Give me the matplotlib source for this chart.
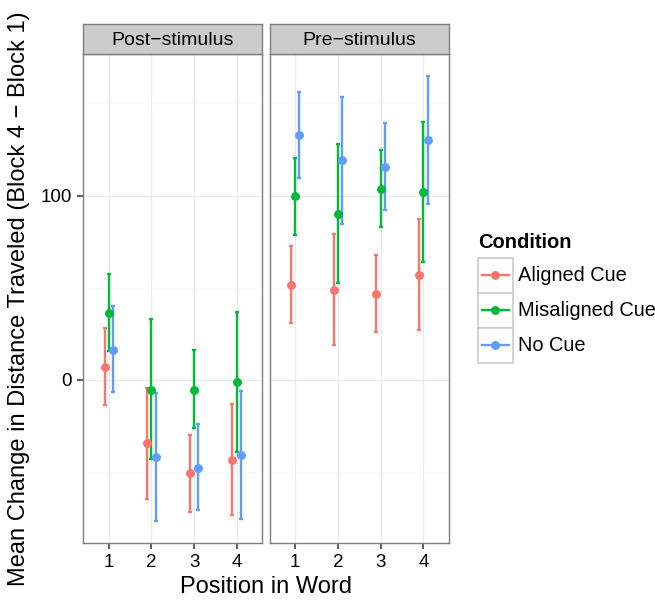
import matplotlib
matplotlib.use('Agg')
import matplotlib.pyplot as plt
from matplotlib.patches import Rectangle
from matplotlib.lines import Line2D
import numpy as np

plt.rcParams['font.family'] = ['Liberation Sans', 'DejaVu Sans']

# ---------------- data ----------------
positions = [1, 2, 3, 4]
facets = ['Post\u2212stimulus', 'Pre\u2212stimulus']
conditions = ['Aligned Cue', 'Misaligned Cue', 'No Cue']
colors = ['#F8766D', '#00BA38', '#619CFF']

post_aligned_mean = [7.2, -34.4, -50.6, -43.6]
post_aligned_lo = [-13.5, -64.7, -71.9, -73.5]
post_aligned_hi = [28.3, -4.5, -29.9, -13.0]
post_misaligned_mean = [36.4, -5.4, -5.4, -1.4]
post_misaligned_lo = [15.7, -43.2, -25.9, -39.3]
post_misaligned_hi = [57.3, 32.8, 16.0, 36.6]
post_nocue_mean = [16.4, -42.0, -47.9, -40.9]
post_nocue_lo = [-6.8, -76.6, -70.8, -75.3]
post_nocue_hi = [40.0, -7.2, -24.0, -6.1]

pre_aligned_mean = [51.5, 48.8, 46.5, 56.9]
pre_aligned_lo = [30.8, 18.7, 25.9, 27.0]
pre_aligned_hi = [72.6, 79.1, 67.9, 87.0]
pre_misaligned_mean = [99.6, 89.9, 103.4, 101.8]
pre_misaligned_lo = [78.6, 52.3, 82.9, 64.2]
pre_misaligned_hi = [120.4, 127.9, 124.7, 139.8]
pre_nocue_mean = [132.6, 119.1, 115.3, 129.9]
pre_nocue_lo = [109.4, 84.3, 92.4, 95.3]
pre_nocue_hi = [156.0, 153.7, 139.1, 164.7]

y_major = [0, 100]
y_minor = [-50, 50, 150]

facet_data = [
    [(post_aligned_mean, post_aligned_lo, post_aligned_hi),
     (post_misaligned_mean, post_misaligned_lo, post_misaligned_hi),
     (post_nocue_mean, post_nocue_lo, post_nocue_hi)],
    [(pre_aligned_mean, pre_aligned_lo, pre_aligned_hi),
     (pre_misaligned_mean, pre_misaligned_lo, pre_misaligned_hi),
     (pre_nocue_mean, pre_nocue_lo, pre_nocue_hi)],
]

# ---------------- layout ----------------
W, H = 655, 602
fig = plt.figure(figsize=(W / 100, H / 100), dpi=100)
fig.patch.set_facecolor('white')

all_vals = [v for f in facet_data for s in f for arr in s for v in arr]
ymin, ymax = min(all_vals), max(all_vals)
pad = 0.05 * (ymax - ymin)
ylim = (ymin - pad, ymax + pad)

panel_x = [(83.3, 262.3), (269.5, 449.0)]
panel_top, panel_bot = 54.0, 543.3
strip_top = 24.3
offsets = [-0.1, 0.0, 0.1]
border = '#7f7f7f'

for i, (x0, x1) in enumerate(panel_x):
    ax = fig.add_axes([x0 / W, 1 - panel_bot / H, (x1 - x0) / W, (panel_bot - panel_top) / H])
    ax.set_facecolor('white')
    ax.set_xlim(0.4, 4.6)
    ax.set_ylim(*ylim)
    for yv in y_minor:
        ax.axhline(yv, color='#fafafa', lw=1.0, zorder=0)
    for yv in y_major:
        ax.axhline(yv, color='#ebebeb', lw=1.0, zorder=0)
    for xv in positions:
        ax.axvline(xv, color='#ebebeb', lw=1.0, zorder=0)
    for j, (m, lo, hi) in enumerate(facet_data[i]):
        m = np.array(m); lo = np.array(lo); hi = np.array(hi)
        xs = np.array(positions) + offsets[j]
        ax.errorbar(xs, m, yerr=[m - lo, hi - m], fmt='o', color=colors[j],
                    ms=5.4, elinewidth=1.7, capsize=1.3, capthick=1.7, zorder=3)
    for s in ax.spines.values():
        s.set_color(border)
        s.set_linewidth(1.0)
    ax.set_xticks(positions)
    ax.set_xticklabels([str(p) for p in positions])
    ax.set_yticks(y_major)
    ax.tick_params(axis='both', colors='#333333', length=4.5, width=1.1,
                   labelsize=13.5, labelcolor='black')
    ax.tick_params(axis='x', pad=3.5)
    ax.tick_params(axis='y', pad=3.6)
    if i == 0:
        ax.set_yticklabels([str(v) for v in y_major])
    else:
        ax.tick_params(axis='y', left=False, labelleft=False)
    # strip
    sax = fig.add_axes([x0 / W, 1 - panel_top / H, (x1 - x0) / W, (panel_top - strip_top) / H])
    sax.set_facecolor('#cccccc')
    sax.set_xticks([]); sax.set_yticks([])
    for s in sax.spines.values():
        s.set_color(border)
        s.set_linewidth(1.0)
    sax.text(0.5, 0.47, facets[i], ha='center', va='center', fontsize=14,
             transform=sax.transAxes)

fig.text(19 / W, 1 - 299 / H, 'Mean Change in Distance Traveled (Block 4 \u2212 Block 1)',
         rotation=90, ha='center', va='center', fontsize=17)
fig.text(266 / W, 1 - 587 / H, 'Position in Word', ha='center', va='center', fontsize=17)

# ---------------- legend ----------------
lax = fig.add_axes([0, 0, 1, 1], facecolor='none')
lax.set_xlim(0, W); lax.set_ylim(H, 0)
lax.axis('off')
lax.text(478, 242.5, 'Condition', fontsize=14.5, fontweight='bold', ha='left', va='center')
key_x0, key_w, key_h, key_y0 = 477.5, 35, 35, 257.7
for j, name in enumerate(conditions):
    ky = key_y0 + j * key_h
    lax.add_patch(Rectangle((key_x0, ky), key_w, key_h, facecolor='white',
                            edgecolor='#cccccc', lw=1.2))
    cy = ky + key_h / 2
    lax.add_line(Line2D([key_x0 + 4, key_x0 + key_w - 4], [cy, cy], color=colors[j], lw=1.7))
    lax.add_line(Line2D([key_x0 + key_w / 2], [cy], marker='o', ms=5.4, color=colors[j]))
    lax.text(517.5, cy, name, fontsize=14.4, ha='left', va='center')

fig.savefig('out.png', dpi=100)
